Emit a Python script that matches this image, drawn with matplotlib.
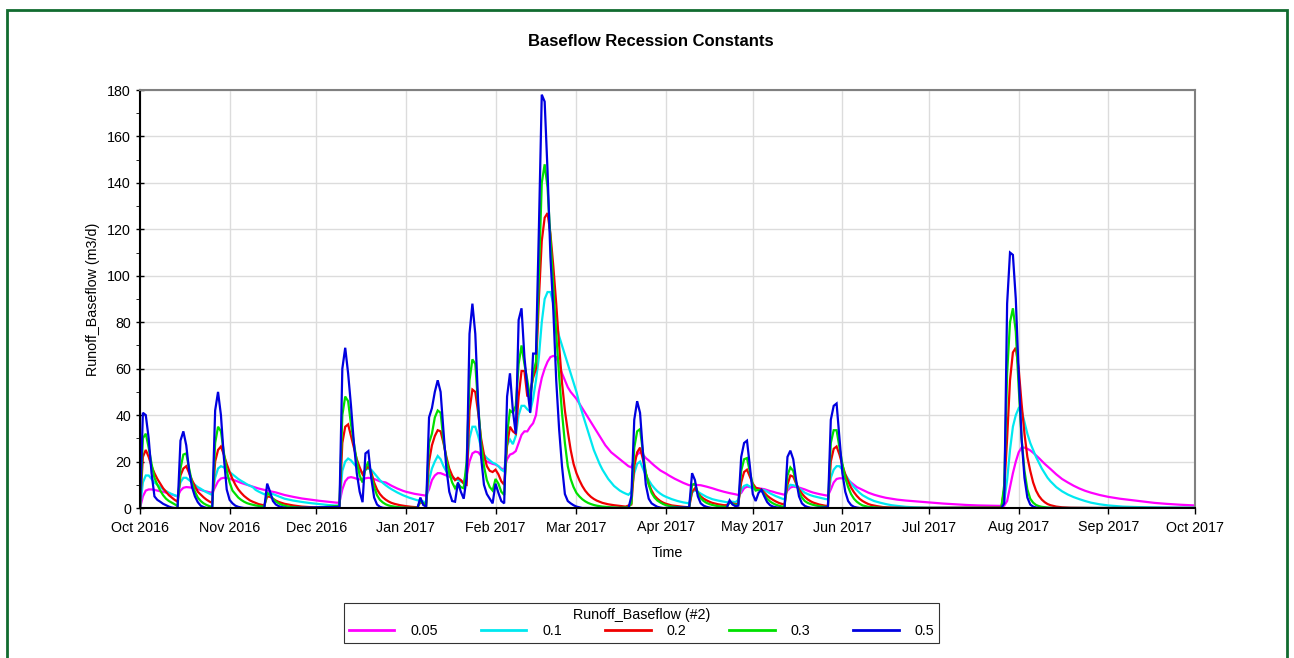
import numpy as np
import matplotlib
matplotlib.use("Agg")
from matplotlib import pyplot as plt
import matplotlib.dates as mdates
from matplotlib.patches import Rectangle

plt.rcParams['font.family'] = ['Liberation Sans', 'DejaVu Sans']

# day offset from 1 Oct 2016, value (m3/d)
k005 = [(0, 0), (1, 5), (2, 7.5), (3, 8), (4, 8), (5, 7.8), (6, 7.5), (7, 7.2), (8, 7), (9, 6.6), (10, 6.2),
        (11, 5.8), (12, 5.4), (13, 5), (14, 7.5), (15, 8.7), (16, 9), (17, 8.9), (18, 8.7), (19, 8.4), (20, 8.1),
        (21, 7.8), (22, 7.4), (23, 7.1), (24, 6.8), (25, 6.5), (26, 9), (27, 11.5), (28, 12.7), (29, 13),
        (30, 12.9), (31, 12.6), (32, 12.2), (33, 11.8), (34, 11.3), (35, 10.8), (36, 10.4), (37, 10), (38, 9.6),
        (39, 9.2), (40, 8.8), (41, 8.4), (42, 8.1), (43, 7.8), (44, 7.5), (47, 6.7), (50, 5.6), (53, 4.8),
        (56, 4.1), (59, 3.6), (62, 3.1), (65, 2.7), (68, 2.3), (69, 2.3), (70, 8), (71, 11.5), (72, 13),
        (73, 13.3), (74, 13), (75, 12.6), (76, 12.3), (77, 12.2), (78, 12.8), (79, 13), (80, 12.8), (81, 12.5),
        (82, 12), (83, 11.5), (84, 11.2), (85, 11), (86, 10.3), (87, 9.6), (88, 9), (89, 8.4), (90, 7.9),
        (91, 7.4), (92, 7), (93, 6.7), (94, 6.4), (95, 6.1), (96, 5.9), (97, 5.7), (98, 5.5), (99, 5.3),
        (100, 8), (101, 12), (102, 14), (103, 15), (104, 15), (105, 14.5), (106, 14), (107, 13.5), (108, 13),
        (109, 12.3), (110, 12.5), (111, 12), (112, 11), (113, 14), (114, 20), (115, 23.5), (116, 24.3),
        (117, 24), (118, 22.5), (119, 21), (120, 20), (121, 19.5), (122, 19), (123, 18.7), (124, 18),
        (125, 17), (126, 16.5), (127, 21), (128, 23), (129, 23.5), (130, 24.5), (131, 28), (132, 31.5),
        (133, 33), (134, 33), (135, 35), (136, 36.5), (137, 40), (138, 50), (139, 56), (140, 60), (141, 63),
        (142, 65), (143, 65.5), (144, 65), (145, 62), (146, 58), (147, 55), (148, 52), (149, 50), (150, 48.5),
        (151, 47), (152, 45), (153, 43), (154, 41), (155, 39), (156, 37), (157, 35), (158, 33), (159, 31),
        (160, 29), (161, 27), (162, 25.5), (163, 24), (164, 23), (165, 22), (166, 21), (167, 20), (168, 19),
        (169, 18), (170, 17.5), (171, 21), (172, 23), (173, 24), (174, 23), (175, 21.5), (176, 20.5),
        (177, 19.3), (178, 18.2), (179, 17.2), (180, 16.2), (181, 15.5), (182, 14.8), (183, 14), (184, 13.3),
        (185, 12.6), (186, 12), (187, 11.4), (188, 10.8), (189, 10.3), (190, 9.8), (192, 10), (194, 9.8),
        (196, 9.2), (198, 8.5), (200, 7.7), (202, 7), (204, 6.4), (206, 5.9), (207, 5.6), (208, 6.5),
        (209, 8.5), (210, 9.2), (211, 9), (212, 8.8), (213, 8.6), (214, 8.5), (215, 8.3), (216, 8.1),
        (217, 7.7), (218, 7.3), (219, 7), (220, 6.6), (221, 6.3), (222, 6), (223, 5.7), (224, 7.5), (225, 8.8),
        (226, 9.2), (227, 9), (228, 8.8), (229, 8.4), (230, 8), (231, 7.5), (232, 7), (233, 6.6), (235, 6),
        (237, 5.5), (238, 5.3), (239, 8), (240, 11), (241, 12.5), (242, 12.8), (243, 12.8), (244, 12.6),
        (245, 12), (246, 11), (247, 10), (248, 9), (250, 7.8), (252, 6.6), (254, 5.7), (256, 5), (258, 4.4),
        (260, 4), (262, 3.6), (265, 3.2), (268, 2.9), (271, 2.6), (274, 2.3), (278, 1.9), (282, 1.6),
        (286, 1.3), (290, 1.1), (294, 1), (298, 0.9), (299, 1), (300, 3), (301, 9), (302, 15), (303, 20),
        (304, 24), (305, 26), (306, 26), (307, 25.5), (308, 24.8), (309, 23.8), (311, 21.5), (313, 19),
        (315, 16.8), (317, 14.5), (319, 12.5), (321, 11), (323, 9.6), (325, 8.4), (327, 7.4), (329, 6.6),
        (332, 5.6), (335, 4.8), (339, 4), (343, 3.4), (347, 2.8), (351, 2.2), (355, 1.8), (360, 1.4), (365, 1.1)]

k01 = [(0, 0), (1, 11), (2, 14), (3, 14), (4, 12.5), (5, 11), (6, 10), (7, 9), (8, 8), (9, 7.3), (10, 6.6),
       (11, 6), (12, 5.5), (13, 5), (14, 11), (15, 13), (16, 13), (17, 12), (18, 11), (19, 10), (20, 9),
       (21, 8.3), (22, 7.5), (23, 6.8), (24, 6.2), (25, 5.6), (26, 13), (27, 17), (28, 18), (29, 17.5),
       (30, 16.5), (31, 15.5), (32, 14.5), (33, 13.5), (34, 12.5), (35, 11.7), (36, 11), (37, 10.2), (38, 9.6),
       (39, 9), (40, 7.8), (41, 7.1), (42, 6.5), (43, 5.9), (44, 6.5), (45, 6.3), (46, 6), (47, 5.5), (50, 4),
       (53, 3.2), (56, 2.6), (59, 2.1), (62, 1.7), (65, 1.3), (68, 1), (69, 1), (70, 16), (71, 20), (72, 21.3),
       (73, 20.5), (74, 19), (75, 17.5), (76, 16), (77, 15), (78, 16.5), (79, 17), (80, 16.5), (81, 15),
       (82, 13.5), (83, 12), (84, 10.8), (85, 9.8), (86, 8.9), (87, 8.1), (88, 7.4), (89, 6.7), (90, 6.1),
       (91, 5.5), (92, 5), (93, 4.5), (94, 4.1), (95, 3.7), (96, 3.3), (97, 3.3), (98, 2.8), (99, 2.4),
       (100, 12), (101, 17), (102, 20), (103, 22.4), (104, 21), (105, 18), (106, 15.7), (107, 14.5),
       (108, 13.5), (109, 12.5), (110, 12), (111, 11.4), (112, 10.8), (113, 16), (114, 30), (115, 35),
       (116, 35), (117, 31), (118, 26), (119, 23), (120, 21.5), (121, 20.5), (122, 19.5), (123, 19), (124, 18),
       (125, 16.5), (126, 15.7), (127, 27), (128, 29.5), (129, 27.5), (130, 31), (131, 40), (132, 44),
       (133, 44), (134, 42.5), (135, 41.5), (136, 47), (137, 55), (138, 65), (139, 80), (140, 90), (141, 93),
       (142, 93), (143, 88), (144, 80), (145, 74), (146, 70), (147, 66), (148, 62), (149, 58), (150, 54),
       (151, 50), (152, 45), (153, 41), (154, 37), (155, 33), (156, 29), (157, 25), (158, 22), (159, 19),
       (160, 16.5), (161, 14.5), (162, 12.5), (163, 11), (164, 9.5), (165, 8.5), (166, 7.5), (167, 6.8),
       (168, 6.2), (169, 5.7), (170, 7), (171, 15), (172, 19), (173, 20), (174, 17), (175, 14), (176, 12),
       (177, 10), (178, 8.5), (179, 7.2), (180, 6.2), (181, 5.4), (182, 4.8), (183, 4.3), (184, 3.8), (186, 3),
       (188, 2.4), (190, 2), (191, 6.5), (192, 7.8), (193, 7), (194, 6.2), (195, 5.5), (196, 4.8), (197, 4.3),
       (198, 3.8), (200, 3.2), (203, 2.5), (204, 2.8), (205, 2.7), (206, 2.5), (207, 3.5), (208, 8), (209, 9.5),
       (210, 10), (211, 9.2), (212, 8.4), (213, 8), (214, 8), (215, 7.9), (216, 7.7), (217, 7), (218, 6.3),
       (219, 5.7), (220, 5.1), (221, 4.6), (222, 4.1), (223, 3.7), (224, 8.5), (225, 10), (226, 9.8),
       (227, 9.4), (228, 8.5), (229, 7.5), (230, 6.6), (231, 6), (232, 5.5), (233, 5.1), (235, 4.5), (237, 3.9),
       (238, 3.7), (239, 13), (240, 16.5), (241, 18), (242, 18), (243, 16.5), (244, 14.5), (245, 12.5),
       (246, 10.5), (247, 9), (248, 7.7), (249, 6.5), (250, 5.5), (252, 4.1), (254, 3), (256, 2.3), (258, 1.7),
       (260, 1.2), (262, 0.9), (265, 0.5), (268, 0.3), (272, 0.1), (298, 0), (299, 3), (300, 12), (301, 25),
       (302, 35), (303, 40), (304, 43), (305, 42), (306, 37), (307, 32), (308, 28), (309, 25), (310, 22),
       (311, 19.5), (312, 17), (313, 15), (314, 13), (315, 11.5), (317, 9), (319, 7.2), (321, 5.8), (323, 4.7),
       (325, 3.8), (327, 3), (329, 2.3), (332, 1.6), (335, 1.1), (340, 0.6), (345, 0.4), (350, 0.3),
       (355, 0.2), (365, 0.1)]

k02 = [(0, 0), (1, 22), (2, 25), (3, 22), (4, 18), (5, 15), (6, 12.5), (7, 10.5), (8, 8.5), (9, 7), (10, 5.5),
       (11, 4.5), (12, 3.5), (13, 2.7), (14, 14), (15, 17), (16, 18), (17, 15), (18, 12), (19, 9.5), (20, 7),
       (21, 5.8), (22, 4.6), (23, 3.6), (24, 2.8), (25, 2.2), (26, 20), (27, 25), (28, 26.5), (29, 23),
       (30, 19), (31, 15.5), (32, 12.5), (33, 10), (34, 8), (35, 6.5), (36, 5.2), (37, 4.2), (38, 3.3),
       (39, 2.7), (40, 2.2), (41, 1.7), (42, 1.4), (43, 1.1), (44, 5), (45, 4.8), (46, 4), (47, 3.2),
       (48, 2.6), (50, 1.8), (53, 1.1), (56, 0.6), (60, 0.3), (65, 0.1), (68, 0), (69, 0.5), (70, 28),
       (71, 35), (72, 36), (73, 31), (74, 26), (75, 21), (76, 17.5), (77, 14.5), (78, 16.5), (79, 18),
       (80, 15.5), (81, 11), (82, 8), (83, 6), (84, 4.6), (85, 3.6), (86, 2.8), (87, 2.2), (88, 1.8), (89, 1.5),
       (90, 1.2), (92, 0.8), (94, 0.5), (96, 0.3), (97, 2.5), (98, 2), (99, 1.5), (100, 20), (101, 27),
       (102, 31), (103, 33.5), (104, 33), (105, 28), (106, 22), (107, 17), (108, 14), (109, 12), (110, 13),
       (111, 12), (112, 10.5), (113, 10), (114, 42), (115, 51), (116, 50), (117, 41), (118, 30), (119, 23),
       (120, 18), (121, 16), (122, 15.5), (123, 16.5), (124, 14.5), (125, 11.5), (126, 10), (127, 27),
       (128, 35), (129, 33), (130, 32), (131, 48), (132, 59), (133, 59), (134, 48), (135, 50), (136, 56),
       (137, 60), (138, 90), (139, 115), (140, 125), (141, 127), (142, 118), (143, 104), (144, 88), (145, 70),
       (146, 54), (147, 42), (148, 33), (149, 25), (150, 19), (151, 15), (152, 12), (153, 9.5), (154, 7.5),
       (155, 6), (156, 4.8), (157, 3.9), (158, 3.2), (159, 2.7), (160, 2.2), (162, 1.6), (164, 1.2),
       (166, 0.9), (168, 0.6), (170, 1.5), (171, 18), (172, 24), (173, 26), (174, 21), (175, 15), (176, 10.5),
       (177, 7.5), (178, 5.3), (179, 4), (180, 3), (181, 2.3), (182, 1.8), (184, 1.1), (186, 0.8), (188, 0.5),
       (190, 0.3), (191, 7), (192, 8.5), (193, 6.5), (194, 5), (195, 4), (196, 3.3), (197, 2.7), (198, 2.2),
       (200, 1.6), (202, 1.2), (203, 1.2), (204, 2.5), (205, 2), (206, 1.6), (207, 1.8), (208, 11),
       (209, 15.5), (210, 16.5), (211, 13.5), (212, 10.5), (213, 8.8), (214, 8.3), (215, 8), (216, 6.6),
       (217, 5.3), (218, 4.3), (219, 3.5), (220, 2.8), (221, 2.2), (222, 1.8), (223, 1.5), (224, 10),
       (225, 14), (226, 13.5), (227, 10.5), (228, 8), (229, 6.2), (230, 4.8), (231, 3.7), (232, 2.9),
       (233, 2.3), (235, 1.5), (237, 1), (238, 0.8), (239, 20), (240, 25.5), (241, 26.5), (242, 23),
       (243, 18.5), (244, 14.5), (245, 11.5), (246, 8.8), (247, 6.8), (248, 5.2), (249, 3.9), (250, 3),
       (251, 2.3), (252, 1.7), (253, 1.3), (255, 0.8), (257, 0.4), (260, 0.2), (265, 0), (298, 0.2), (299, 8),
       (300, 30), (301, 55), (302, 67), (303, 69), (304, 60), (305, 45), (306, 32), (307, 22), (308, 16),
       (309, 11), (310, 7.5), (311, 5.2), (312, 3.6), (313, 2.5), (314, 1.7), (315, 1.2), (317, 0.6),
       (319, 0.3), (322, 0.1), (330, 0), (365, 0)]

k03 = [(0, 0), (1, 30), (2, 32), (3, 26), (4, 19), (5, 13), (6, 10), (7, 7.5), (8, 5.5), (9, 4), (10, 3),
       (11, 2.3), (12, 1.6), (13, 0.8), (14, 17), (15, 23), (16, 23.5), (17, 17), (18, 11), (19, 7), (20, 4.5),
       (21, 3), (22, 2), (23, 1.3), (24, 0.8), (25, 0.5), (26, 28), (27, 35), (28, 33), (29, 24), (30, 16),
       (31, 11), (32, 7.5), (33, 6), (34, 4.5), (35, 3.5), (36, 2.7), (37, 2.1), (38, 1.7), (39, 1.4),
       (40, 1.1), (41, 0.9), (42, 0.7), (43, 0.5), (44, 6.5), (45, 5.5), (46, 4), (47, 2.8), (48, 2), (49, 1.4),
       (50, 1), (52, 0.5), (55, 0.2), (60, 0), (69, 1), (70, 40), (71, 48), (72, 46), (73, 36), (74, 28),
       (75, 20), (76, 14), (77, 11), (78, 17), (79, 20), (80, 14), (81, 9), (82, 5.5), (83, 3.5), (84, 2.4),
       (85, 1.6), (86, 1.1), (87, 0.8), (88, 0.6), (89, 0.4), (90, 0.3), (92, 0.1), (96, 0.1), (97, 3),
       (98, 2), (99, 1.3), (100, 28), (101, 32), (102, 39), (103, 42), (104, 41), (105, 29), (106, 21),
       (107, 15), (108, 11), (109, 8.5), (110, 10.5), (111, 9), (112, 8.5), (113, 20), (114, 55), (115, 64),
       (116, 62), (117, 44), (118, 28), (119, 18), (120, 12), (121, 9), (122, 7.5), (123, 12.5), (124, 10.5),
       (125, 7), (126, 5.6), (127, 32), (128, 42), (129, 41), (130, 44), (131, 62), (132, 70), (133, 62),
       (134, 55), (135, 47), (136, 58), (137, 63), (138, 100), (139, 140), (140, 148), (141, 138), (142, 116),
       (143, 95), (144, 75), (145, 57), (146, 41), (147, 28), (148, 18), (149, 12.5), (150, 9), (151, 6.5),
       (152, 5), (153, 3.8), (154, 2.9), (155, 2.2), (156, 1.7), (157, 1.3), (158, 1), (160, 0.6), (163, 0.3),
       (166, 0.1), (169, 0.3), (170, 2), (171, 26), (172, 33), (173, 34), (174, 24), (175, 15), (176, 10),
       (177, 6.5), (178, 4.5), (179, 3.2), (180, 2.4), (181, 1.7), (182, 1.2), (183, 0.9), (184, 0.6),
       (186, 0.3), (188, 0.1), (190, 0.2), (191, 10), (192, 10.5), (193, 6.5), (194, 4.2), (195, 3), (196, 2.2),
       (197, 1.7), (198, 1.3), (200, 0.8), (203, 0.4), (204, 2.5), (205, 1.8), (206, 1.2), (207, 1.5),
       (208, 16), (209, 21), (210, 21.5), (211, 15.5), (212, 10), (213, 7.5), (214, 7.8), (215, 7.5),
       (216, 5.8), (217, 4), (218, 2.8), (219, 2), (220, 1.4), (221, 1), (222, 0.7), (223, 0.5), (224, 14),
       (225, 17.5), (226, 16), (227, 11), (228, 7), (229, 4.5), (230, 3), (231, 2.2), (232, 1.7), (233, 1.3),
       (235, 0.8), (237, 0.5), (238, 0.4), (239, 28), (240, 33.5), (241, 33.5), (242, 26), (243, 19),
       (244, 13), (245, 9), (246, 6), (247, 4), (248, 2.7), (249, 1.8), (250, 1.1), (251, 0.8), (252, 0.5),
       (254, 0.3), (256, 0.1), (260, 0), (298, 0.1), (299, 10), (300, 58), (301, 80), (302, 86), (303, 76),
       (304, 52), (305, 30), (306, 16), (307, 8), (308, 4), (309, 2.3), (310, 1.3), (311, 0.8), (312, 0.5),
       (314, 0.2), (316, 0), (365, 0)]

k05 = [(0, 0), (1, 41), (2, 40), (3, 30), (4, 15), (5, 5), (6, 3.5), (7, 2.7), (8, 1.8), (9, 1.2), (10, 0.6),
       (11, 0.2), (12, 0), (13, 0), (14, 29), (15, 33), (16, 27), (17, 16), (18, 9), (19, 5), (20, 2.5),
       (21, 1), (22, 0.4), (23, 0), (25, 0), (26, 42), (27, 50), (28, 40), (29, 22), (30, 8), (31, 3.5),
       (32, 2), (33, 1), (34, 0.5), (35, 0.2), (36, 0), (43, 0), (44, 10.5), (45, 7), (46, 3), (47, 1.5),
       (48, 0.8), (49, 0.4), (50, 0.2), (51, 0), (69, 0.5), (70, 60), (71, 69), (72, 58), (73, 44), (74, 28),
       (75, 15), (76, 7), (77, 2.5), (78, 23.5), (79, 24.5), (80, 13), (81, 4.5), (82, 1.5), (83, 0.5),
       (84, 0.1), (85, 0), (96, 0), (97, 4.5), (98, 1.3), (99, 0.6), (100, 39), (101, 43), (102, 50),
       (103, 55), (104, 50), (105, 33), (106, 17), (107, 7), (108, 3), (109, 2.7), (110, 11), (111, 7),
       (112, 4), (113, 13), (114, 75), (115, 88), (116, 75), (117, 45), (118, 22), (119, 10), (120, 6),
       (121, 4), (122, 2), (123, 10.5), (124, 6.5), (125, 3), (126, 2), (127, 48), (128, 58), (129, 42),
       (130, 32), (131, 81), (132, 86), (133, 65), (134, 52), (135, 41), (136, 66.5), (137, 66.5), (138, 120),
       (139, 178), (140, 175), (141, 145), (142, 108), (143, 85), (144, 55), (145, 34), (146, 18), (147, 6),
       (148, 3), (149, 2), (150, 1.2), (151, 0.6), (152, 0.3), (153, 0), (169, 0), (170, 5), (171, 38),
       (172, 46), (173, 41), (174, 24), (175, 10), (176, 4), (177, 2), (178, 1.2), (179, 0.5), (180, 0.2),
       (181, 0), (190, 0.3), (191, 15), (192, 12), (193, 5), (194, 2), (195, 1), (196, 0.5), (197, 0.2),
       (198, 0), (203, 0), (204, 3.3), (205, 1.5), (206, 0.8), (207, 1), (208, 22), (209, 28), (210, 29),
       (211, 18), (212, 6), (213, 3), (214, 6.5), (215, 7.8), (216, 5), (217, 2.5), (218, 1.2), (219, 0.6),
       (220, 0.3), (221, 0.1), (222, 0), (223, 0), (224, 22), (225, 24.7), (226, 21), (227, 12), (228, 5),
       (229, 2), (230, 0.9), (231, 0.4), (232, 0.1), (233, 0), (238, 0.3), (239, 38), (240, 44), (241, 45),
       (242, 30), (243, 15), (244, 7), (245, 3), (246, 1.3), (247, 0.5), (248, 0.2), (249, 0), (298, 0),
       (299, 2), (300, 88), (301, 110), (302, 109), (303, 90), (304, 58), (305, 30), (306, 13), (307, 4.5),
       (308, 1.5), (309, 0.6), (310, 0.2), (311, 0), (365, 0)]

labels = ['0.05', '0.1', '0.2', '0.3', '0.5']
colors = ['#ff00ff', '#00e8f0', '#f00000', '#00e000', '#0000e0']
series = [k005, k01, k02, k03, k05]

start = np.datetime64('2016-10-01')

fig = plt.figure(figsize=(12.94, 6.58), dpi=100)
ax = fig.add_axes([140 / 1294, 1 - 508 / 658, (1195 - 140) / 1294, (508 - 90) / 658])

for pts, lab, col in zip(series, labels, colors):
    d, v = zip(*pts)
    t = start + np.array(d, dtype='timedelta64[D]')
    ax.plot(t, v, color=col, lw=1.6, label=lab, solid_joinstyle='miter')

ax.set_xlim(start, np.datetime64('2017-10-01'))
ax.set_ylim(0, 180)
ax.xaxis.set_major_locator(mdates.MonthLocator())
ax.xaxis.set_major_formatter(mdates.DateFormatter('%b %Y'))
ax.set_yticks(np.arange(0, 181, 20))
ax.set_yticks(np.arange(0, 181, 10), minor=True)
ax.grid(True, which='major', color='#dcdcdc', lw=1)
ax.set_axisbelow(True)
ax.tick_params(axis='both', which='major', labelsize=10.3, color='black', width=1)
ax.tick_params(axis='y', which='major', direction='inout', length=6)
ax.tick_params(axis='y', which='minor', direction='out', length=3)
ax.tick_params(axis='x', which='major', direction='out', length=4, pad=5)

for s in ['left', 'bottom']:
    ax.spines[s].set_color('black')
    ax.spines[s].set_linewidth(1.5)
for s in ['top', 'right']:
    ax.spines[s].set_color('#808080')
    ax.spines[s].set_linewidth(1.5)

ax.set_ylabel('Runoff_Baseflow (m3/d)', fontsize=10.3, labelpad=5)
ax.set_xlabel('Time', fontsize=10.3, labelpad=8)
fig.text(0.503, 1 - 41 / 658, 'Baseflow Recession Constants', ha='center', va='center',
         fontsize=12, fontweight='bold')

leg = fig.legend(loc='center', bbox_to_anchor=(0.4957, 1 - 623 / 658), ncol=5,
                 title='Runoff_Baseflow (#2)', fontsize=10.3, title_fontsize=10.3,
                 frameon=True, fancybox=False, handlelength=3.2, handletextpad=1.1,
                 columnspacing=3.0, borderpad=0.3, labelspacing=0.2, borderaxespad=0)
leg.get_frame().set_edgecolor('black')
leg.get_frame().set_linewidth(0.8)
for ln in leg.get_lines():
    ln.set_linewidth(2)

fig.patches.append(Rectangle((7 / 1294, -0.02), 1280 / 1294, 1 - 10 / 658 + 0.02, transform=fig.transFigure,
                             fill=False, edgecolor='#116b2f', lw=2))

fig.savefig('out.png', dpi=100)
